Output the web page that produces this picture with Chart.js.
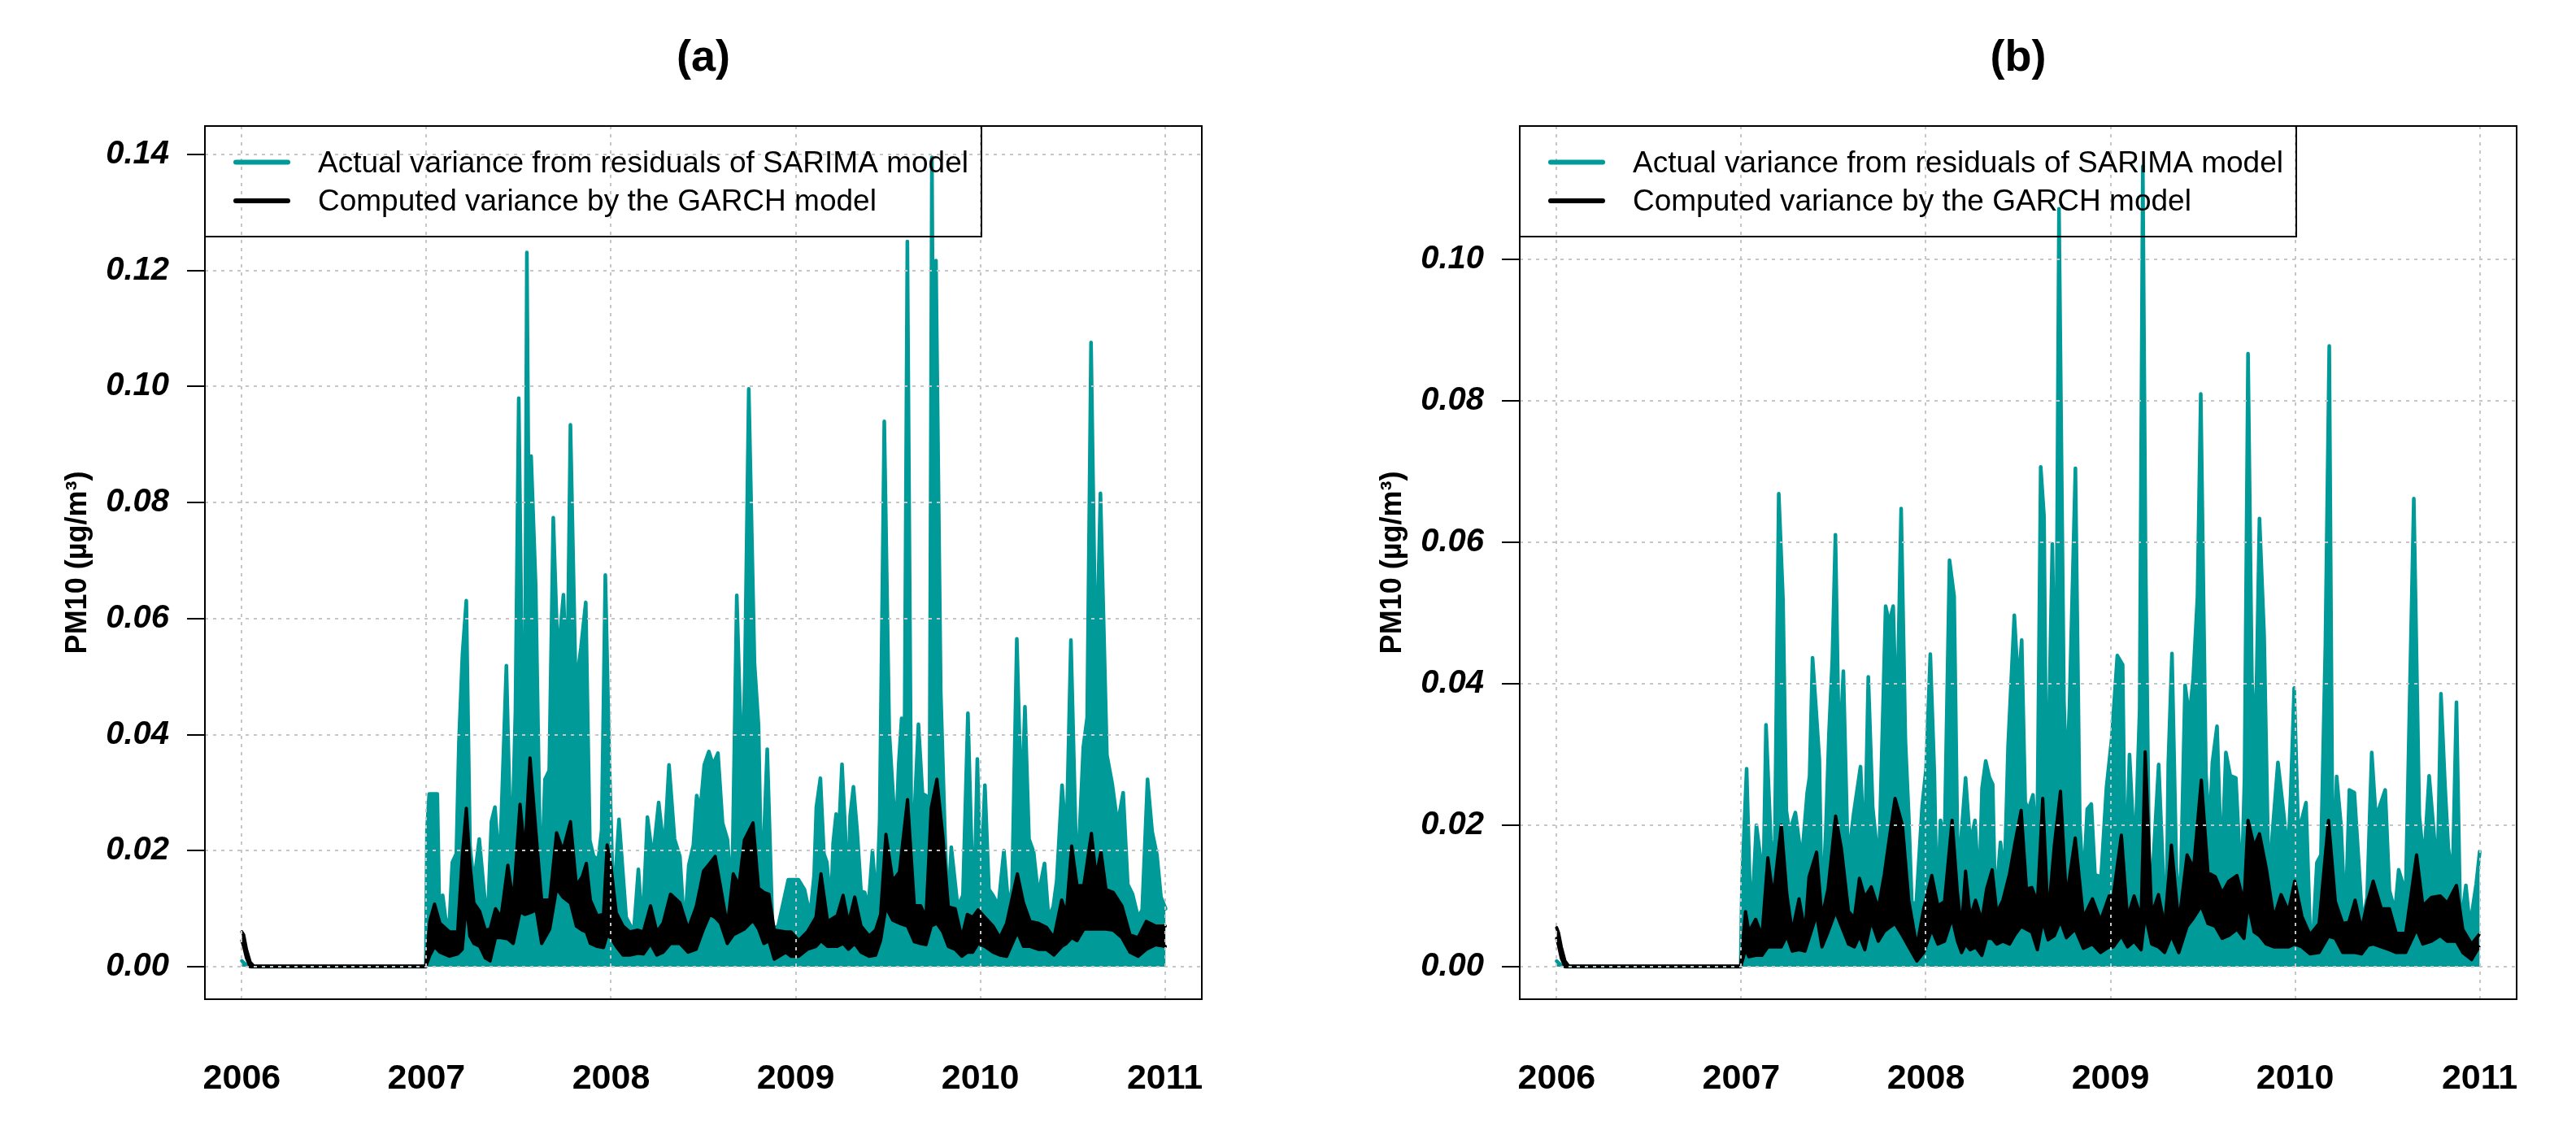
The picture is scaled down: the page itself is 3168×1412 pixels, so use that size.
<!DOCTYPE html>
<html><head><meta charset="utf-8">
<script src="https://cdn.jsdelivr.net/npm/chart.js@4.4.1/dist/chart.umd.min.js"></script>
<style>
html,body{margin:0;padding:0;background:#fff;}
#wrap{position:relative;width:3168px;height:1412px;overflow:hidden;}
canvas{position:absolute;top:0;}
</style></head><body>
<div id="wrap">
<canvas id="ca" width="1584" height="1412" style="left:0;width:1584px;height:1412px"></canvas>
<canvas id="cb" width="1584" height="1412" style="left:1584px;width:1584px;height:1412px"></canvas>
</div>
<script>
// ---------- tick labels / text ----------
const yearTicks = [2006, 2007, 2008, 2009, 2010, 2011];
const yTicksA = [0, 0.02, 0.04, 0.06, 0.08, 0.10, 0.12, 0.14];
const yTickLabelsA = ['0.00', '0.02', '0.04', '0.06', '0.08', '0.10', '0.12', '0.14'];
const yTicksB = [0, 0.02, 0.04, 0.06, 0.08, 0.10];
const yTickLabelsB = ['0.00', '0.02', '0.04', '0.06', '0.08', '0.10'];
const panelTitles = ['(a)', '(b)'];
const legendLabels = ['Actual variance from residuals of SARIMA model', 'Computed variance by the GARCH model'];
const yAxisTitle = 'PM10 (µg/m³)';

// ---------- panel (a): actual variance [year, value] ----------
const tealA = [
[2006.000,0.0010],[2006.020,0.0004],[2006.050,0.0000],[2006.997,0.0000],[2007.003,0.0238],[2007.015,0.0298],[2007.059,0.0298],[2007.069,0.0120],[2007.088,0.0123],[2007.103,0.0085],
[2007.122,0.0060],[2007.140,0.0180],[2007.162,0.0195],[2007.176,0.0388],[2007.195,0.0538],[2007.216,0.0631],[2007.236,0.0208],[2007.257,0.0143],[2007.286,0.0220],[2007.308,0.0145],
[2007.330,0.0068],[2007.352,0.0250],[2007.371,0.0275],[2007.396,0.0168],[2007.433,0.0519],[2007.460,0.0165],[2007.482,0.0440],[2007.500,0.0980],[2007.518,0.0500],[2007.530,0.0200],
[2007.544,0.1231],[2007.556,0.0700],[2007.567,0.0880],[2007.592,0.0655],[2007.620,0.0115],[2007.642,0.0323],[2007.665,0.0338],[2007.687,0.0774],[2007.712,0.0528],[2007.742,0.0641],
[2007.762,0.0470],[2007.780,0.0934],[2007.809,0.0481],[2007.837,0.0550],[2007.863,0.0628],[2007.885,0.0218],[2007.906,0.0190],[2007.931,0.0185],[2007.949,0.0235],[2007.969,0.0675],
[2007.991,0.0350],[2008.013,0.0103],[2008.043,0.0254],[2008.082,0.0085],[2008.123,0.0060],[2008.148,0.0168],[2008.170,0.0063],[2008.197,0.0258],[2008.226,0.0185],[2008.258,0.0283],
[2008.288,0.0198],[2008.314,0.0348],[2008.344,0.0220],[2008.373,0.0190],[2008.398,0.0060],[2008.421,0.0175],[2008.446,0.0210],[2008.464,0.0295],[2008.483,0.0270],[2008.505,0.0348],
[2008.530,0.0371],[2008.552,0.0348],[2008.579,0.0368],[2008.604,0.0248],[2008.630,0.0220],[2008.655,0.0123],[2008.681,0.0640],[2008.711,0.0310],[2008.725,0.0508],[2008.746,0.0996],
[2008.777,0.0523],[2008.799,0.0415],[2008.816,0.0120],[2008.846,0.0375],[2008.875,0.0065],[2008.905,0.0070],[2008.960,0.0150],[2009.015,0.0150],[2009.048,0.0133],[2009.078,0.0088],
[2009.100,0.0158],[2009.112,0.0275],[2009.134,0.0325],[2009.153,0.0195],[2009.169,0.0180],[2009.191,0.0103],[2009.203,0.0213],[2009.219,0.0263],[2009.234,0.0233],[2009.251,0.0349],
[2009.269,0.0233],[2009.283,0.0110],[2009.295,0.0260],[2009.313,0.0310],[2009.333,0.0235],[2009.354,0.0130],[2009.374,0.0128],[2009.394,0.0103],[2009.416,0.0200],[2009.438,0.0103],
[2009.455,0.0253],[2009.480,0.0940],[2009.507,0.0405],[2009.530,0.0285],[2009.548,0.0265],[2009.558,0.0348],[2009.574,0.0428],[2009.589,0.0350],[2009.605,0.1250],[2009.629,0.0130],
[2009.643,0.0263],[2009.665,0.0418],[2009.687,0.0298],[2009.706,0.0295],[2009.724,0.0185],[2009.738,0.1395],[2009.749,0.0800],[2009.760,0.1217],[2009.786,0.0473],[2009.809,0.0225],
[2009.824,0.0095],[2009.843,0.0206],[2009.878,0.0103],[2009.906,0.0123],[2009.933,0.0437],[2009.952,0.0220],[2009.965,0.0085],[2009.984,0.0358],[2010.003,0.0135],[2010.025,0.0313],
[2010.047,0.0133],[2010.069,0.0123],[2010.098,0.0105],[2010.128,0.0200],[2010.153,0.0103],[2010.172,0.0135],[2010.198,0.0565],[2010.223,0.0270],[2010.242,0.0448],[2010.264,0.0220],
[2010.289,0.0198],[2010.314,0.0123],[2010.348,0.0178],[2010.370,0.0085],[2010.395,0.0103],[2010.414,0.0148],[2010.443,0.0313],[2010.466,0.0213],[2010.491,0.0563],[2010.524,0.0140],
[2010.543,0.0270],[2010.558,0.0378],[2010.579,0.0430],[2010.600,0.1076],[2010.627,0.0490],[2010.651,0.0816],[2010.686,0.0365],[2010.715,0.0315],[2010.744,0.0245],[2010.774,0.0300],
[2010.799,0.0142],[2010.825,0.0125],[2010.855,0.0085],[2010.877,0.0098],[2010.906,0.0323],[2010.931,0.0233],[2010.957,0.0193],[2010.979,0.0120],[2011.004,0.0100]
];
// ---------- panel (a): GARCH variance [year, upper, lower] ----------
const blackA = [
[2006.000,0.0060,0.0045],[2006.010,0.0055,0.0035],[2006.025,0.0030,0.0015],[2006.045,0.0008,0.0000],[2006.065,0.0001,0.0000],[2006.996,0.0001,0.0000],
[2007.019,0.0080,0.0020],[2007.044,0.0108,0.0035],[2007.073,0.0075,0.0025],[2007.125,0.0060,0.0018],[2007.169,0.0060,0.0022],[2007.194,0.0190,0.0030],
[2007.216,0.0273,0.0110],[2007.235,0.0180,0.0053],[2007.257,0.0110,0.0040],[2007.289,0.0095,0.0035],[2007.319,0.0063,0.0015],[2007.345,0.0065,0.0010],
[2007.374,0.0100,0.0050],[2007.404,0.0085,0.0050],[2007.441,0.0175,0.0048],[2007.470,0.0110,0.0040],[2007.507,0.0280,0.0095],[2007.533,0.0195,0.0090],
[2007.561,0.0360,0.0093],[2007.595,0.0225,0.0098],[2007.624,0.0115,0.0040],[2007.668,0.0115,0.0065],[2007.705,0.0231,0.0135],[2007.739,0.0200,0.0120],
[2007.780,0.0250,0.0110],[2007.812,0.0140,0.0070],[2007.844,0.0155,0.0063],[2007.866,0.0178,0.0060],[2007.888,0.0115,0.0040],[2007.925,0.0088,0.0035],
[2007.959,0.0090,0.0033],[2007.979,0.0210,0.0055],[2007.999,0.0175,0.0050],[2008.028,0.0093,0.0035],[2008.065,0.0070,0.0020],[2008.101,0.0060,0.0020],
[2008.145,0.0063,0.0023],[2008.175,0.0060,0.0022],[2008.214,0.0105,0.0040],[2008.248,0.0060,0.0020],[2008.282,0.0075,0.0025],[2008.322,0.0125,0.0040],
[2008.373,0.0110,0.0040],[2008.417,0.0065,0.0025],[2008.461,0.0103,0.0030],[2008.501,0.0165,0.0065],[2008.535,0.0178,0.0090],[2008.564,0.0190,0.0085],
[2008.593,0.0138,0.0075],[2008.630,0.0070,0.0040],[2008.662,0.0160,0.0055],[2008.693,0.0140,0.0060],[2008.722,0.0218,0.0065],[2008.769,0.0248,0.0080],
[2008.799,0.0135,0.0065],[2008.828,0.0128,0.0040],[2008.855,0.0125,0.0045],[2008.884,0.0063,0.0013],[2008.946,0.0060,0.0025],[2008.975,0.0060,0.0018],
[2009.016,0.0045,0.0018],[2009.063,0.0060,0.0030],[2009.110,0.0085,0.0035],[2009.137,0.0160,0.0045],[2009.173,0.0078,0.0035],[2009.225,0.0088,0.0035],
[2009.257,0.0123,0.0040],[2009.286,0.0075,0.0030],[2009.320,0.0120,0.0040],[2009.354,0.0070,0.0025],[2009.398,0.0053,0.0018],[2009.433,0.0063,0.0020],
[2009.460,0.0090,0.0045],[2009.489,0.0228,0.0103],[2009.526,0.0148,0.0080],[2009.562,0.0163,0.0075],[2009.606,0.0288,0.0070],[2009.643,0.0105,0.0043],
[2009.677,0.0105,0.0040],[2009.706,0.0085,0.0038],[2009.734,0.0273,0.0070],[2009.765,0.0323,0.0075],[2009.797,0.0225,0.0060],[2009.827,0.0103,0.0035],
[2009.864,0.0100,0.0030],[2009.900,0.0050,0.0018],[2009.930,0.0090,0.0025],[2009.959,0.0085,0.0025],[2009.988,0.0098,0.0040],[2010.025,0.0085,0.0035],
[2010.069,0.0070,0.0025],[2010.106,0.0050,0.0020],[2010.143,0.0075,0.0018],[2010.201,0.0160,0.0060],[2010.234,0.0110,0.0035],[2010.270,0.0078,0.0035],
[2010.314,0.0075,0.0030],[2010.358,0.0068,0.0030],[2010.399,0.0050,0.0020],[2010.441,0.0115,0.0035],[2010.466,0.0090,0.0040],[2010.495,0.0208,0.0050],
[2010.524,0.0140,0.0045],[2010.561,0.0140,0.0065],[2010.602,0.0230,0.0065],[2010.627,0.0155,0.0065],[2010.654,0.0198,0.0065],[2010.681,0.0133,0.0065],
[2010.720,0.0128,0.0063],[2010.767,0.0105,0.0050],[2010.811,0.0055,0.0025],[2010.855,0.0050,0.0018],[2010.899,0.0078,0.0030],[2010.950,0.0070,0.0038],
[2011.002,0.0070,0.0035]
];
// ---------- panel (b): actual variance [year, value] ----------
const tealB = [
[2006.000,0.0008],[2006.020,0.0003],[2006.050,0.0000],[2006.997,0.0000],[2007.004,0.0119],[2007.029,0.0280],[2007.053,0.0053],[2007.082,0.0200],[2007.104,0.0154],[2007.116,0.0070],
[2007.134,0.0342],[2007.160,0.0180],[2007.180,0.0135],[2007.203,0.0669],[2007.226,0.0520],[2007.244,0.0221],[2007.261,0.0190],[2007.293,0.0218],[2007.327,0.0150],[2007.357,0.0246],
[2007.370,0.0269],[2007.386,0.0437],[2007.405,0.0365],[2007.423,0.0293],[2007.437,0.0070],[2007.458,0.0193],[2007.475,0.0330],[2007.493,0.0433],[2007.510,0.0611],[2007.531,0.0287],
[2007.553,0.0418],[2007.578,0.0150],[2007.609,0.0217],[2007.646,0.0283],[2007.668,0.0150],[2007.688,0.0410],[2007.712,0.0225],[2007.745,0.0140],[2007.782,0.0510],[2007.801,0.0486],
[2007.823,0.0510],[2007.842,0.0328],[2007.866,0.0648],[2007.889,0.0320],[2007.907,0.0215],[2007.924,0.0090],[2007.948,0.0090],[2007.980,0.0228],[2008.001,0.0280],[2008.024,0.0442],
[2008.046,0.0273],[2008.061,0.0070],[2008.079,0.0207],[2008.101,0.0178],[2008.128,0.0575],[2008.153,0.0524],[2008.174,0.0123],[2008.215,0.0267],[2008.240,0.0174],[2008.266,0.0207],
[2008.288,0.0102],[2008.304,0.0252],[2008.324,0.0291],[2008.344,0.0268],[2008.362,0.0258],[2008.376,0.0085],[2008.404,0.0176],[2008.426,0.0129],[2008.445,0.0310],[2008.479,0.0497],
[2008.501,0.0394],[2008.519,0.0462],[2008.538,0.0233],[2008.555,0.0221],[2008.580,0.0243],[2008.602,0.0157],[2008.622,0.0707],[2008.640,0.0637],[2008.655,0.0186],[2008.685,0.0598],
[2008.704,0.0312],[2008.721,0.1072],[2008.748,0.0375],[2008.762,0.0260],[2008.778,0.0370],[2008.810,0.0705],[2008.834,0.0200],[2008.853,0.0115],[2008.874,0.0223],[2008.896,0.0230],
[2008.916,0.0130],[2008.949,0.0127],[2008.978,0.0253],[2009.007,0.0324],[2009.037,0.0440],[2009.066,0.0427],[2009.081,0.0102],[2009.103,0.0300],[2009.122,0.0201],[2009.138,0.0201],
[2009.158,0.0365],[2009.175,0.1132],[2009.190,0.0580],[2009.210,0.0139],[2009.230,0.0141],[2009.261,0.0286],[2009.280,0.0166],[2009.301,0.0028],[2009.313,0.0287],[2009.333,0.0443],
[2009.357,0.0139],[2009.377,0.0078],[2009.404,0.0398],[2009.427,0.0353],[2009.448,0.0408],[2009.471,0.0523],[2009.489,0.0810],[2009.517,0.0273],[2009.536,0.0193],[2009.552,0.0289],
[2009.577,0.0340],[2009.602,0.0135],[2009.625,0.0303],[2009.649,0.0270],[2009.679,0.0267],[2009.709,0.0106],[2009.726,0.0267],[2009.745,0.0867],[2009.766,0.0406],[2009.785,0.0310],
[2009.807,0.0634],[2009.832,0.0470],[2009.858,0.0111],[2009.877,0.0189],[2009.907,0.0289],[2009.939,0.0215],[2009.961,0.0155],[2009.976,0.0244],[2009.995,0.0394],[2010.017,0.0195],
[2010.037,0.0209],[2010.059,0.0232],[2010.081,0.0053],[2010.100,0.0057],[2010.118,0.0147],[2010.140,0.0158],[2010.164,0.0455],[2010.185,0.0878],[2010.205,0.0092],[2010.225,0.0269],
[2010.249,0.0199],[2010.272,0.0061],[2010.294,0.0250],[2010.321,0.0246],[2010.343,0.0155],[2010.365,0.0061],[2010.390,0.0098],[2010.415,0.0303],[2010.437,0.0213],[2010.456,0.0225],
[2010.488,0.0250],[2010.511,0.0108],[2010.541,0.0078],[2010.561,0.0137],[2010.599,0.0104],[2010.643,0.0662],[2010.673,0.0213],[2010.698,0.0147],[2010.726,0.0270],[2010.752,0.0189],
[2010.771,0.0129],[2010.790,0.0386],[2010.812,0.0256],[2010.830,0.0168],[2010.853,0.0127],[2010.874,0.0374],[2010.896,0.0053],[2010.925,0.0115],[2010.947,0.0057],[2010.981,0.0117],
[2011.000,0.0163]
];
// ---------- panel (b): GARCH variance [year, upper, lower] ----------
const blackB = [
[2006.000,0.0055,0.0040],[2006.010,0.0048,0.0030],[2006.025,0.0028,0.0012],[2006.045,0.0008,0.0000],[2006.065,0.0001,0.0000],[2006.997,0.0001,0.0000],
[2007.023,0.0078,0.0025],[2007.041,0.0049,0.0014],[2007.078,0.0067,0.0016],[2007.112,0.0043,0.0016],[2007.144,0.0154,0.0028],[2007.173,0.0098,0.0028],
[2007.217,0.0200,0.0028],[2007.247,0.0102,0.0044],[2007.276,0.0049,0.0022],[2007.313,0.0096,0.0024],[2007.345,0.0049,0.0022],[2007.367,0.0127,0.0040],
[2007.408,0.0162,0.0074],[2007.437,0.0069,0.0028],[2007.470,0.0110,0.0049],[2007.511,0.0213,0.0078],[2007.543,0.0166,0.0057],[2007.581,0.0078,0.0032],
[2007.613,0.0069,0.0028],[2007.640,0.0125,0.0044],[2007.669,0.0098,0.0024],[2007.704,0.0113,0.0065],[2007.742,0.0082,0.0036],[2007.775,0.0131,0.0050],
[2007.800,0.0178,0.0055],[2007.833,0.0238,0.0061],[2007.873,0.0200,0.0044],[2007.907,0.0094,0.0028],[2007.951,0.0028,0.0008],[2007.988,0.0082,0.0020],
[2008.032,0.0129,0.0053],[2008.065,0.0086,0.0032],[2008.101,0.0092,0.0036],[2008.142,0.0207,0.0069],[2008.171,0.0104,0.0036],[2008.193,0.0053,0.0020],
[2008.215,0.0135,0.0032],[2008.240,0.0069,0.0024],[2008.269,0.0094,0.0028],[2008.303,0.0065,0.0016],[2008.329,0.0110,0.0040],[2008.359,0.0137,0.0040],
[2008.384,0.0076,0.0032],[2008.417,0.0094,0.0036],[2008.453,0.0131,0.0032],[2008.482,0.0174,0.0045],[2008.516,0.0221,0.0057],[2008.545,0.0110,0.0053],
[2008.574,0.0112,0.0049],[2008.604,0.0090,0.0024],[2008.633,0.0238,0.0065],[2008.662,0.0069,0.0038],[2008.696,0.0172,0.0044],[2008.729,0.0248,0.0065],
[2008.761,0.0096,0.0041],[2008.809,0.0182,0.0053],[2008.853,0.0069,0.0026],[2008.902,0.0096,0.0032],[2008.946,0.0065,0.0020],[2008.993,0.0100,0.0028],
[2009.015,0.0100,0.0028],[2009.059,0.0186,0.0044],[2009.092,0.0069,0.0028],[2009.128,0.0100,0.0036],[2009.166,0.0069,0.0024],[2009.188,0.0304,0.0074],
[2009.223,0.0074,0.0032],[2009.260,0.0102,0.0028],[2009.293,0.0057,0.0020],[2009.330,0.0172,0.0044],[2009.370,0.0061,0.0020],[2009.415,0.0158,0.0057],
[2009.450,0.0139,0.0069],[2009.492,0.0264,0.0086],[2009.528,0.0133,0.0061],[2009.568,0.0127,0.0057],[2009.605,0.0104,0.0040],[2009.641,0.0121,0.0044],
[2009.685,0.0129,0.0053],[2009.723,0.0090,0.0040],[2009.745,0.0207,0.0090],[2009.778,0.0170,0.0049],[2009.807,0.0188,0.0044],[2009.844,0.0139,0.0032],
[2009.885,0.0069,0.0028],[2009.924,0.0102,0.0028],[2009.964,0.0078,0.0028],[2009.998,0.0121,0.0032],[2010.037,0.0071,0.0028],[2010.081,0.0045,0.0018],
[2010.130,0.0061,0.0020],[2010.181,0.0207,0.0043],[2010.218,0.0092,0.0040],[2010.258,0.0061,0.0020],[2010.291,0.0063,0.0020],[2010.325,0.0094,0.0020],
[2010.360,0.0053,0.0018],[2010.394,0.0094,0.0030],[2010.423,0.0121,0.0032],[2010.467,0.0082,0.0028],[2010.511,0.0082,0.0024],[2010.548,0.0047,0.0020],
[2010.599,0.0047,0.0020],[2010.658,0.0158,0.0053],[2010.692,0.0086,0.0032],[2010.739,0.0098,0.0036],[2010.786,0.0100,0.0044],[2010.824,0.0090,0.0036],
[2010.874,0.0115,0.0036],[2010.908,0.0053,0.0020],[2010.956,0.0032,0.0010],[2010.996,0.0045,0.0028]
];

// ---------- drawing ----------
const TEAL = '#009a99';
const GRID = '#c6c6c6';
const FONT = "'Liberation Sans', Arial, Helvetica, sans-serif";
Chart.defaults.font.family = FONT;
Chart.defaults.color = '#000';

function boxLegendPlugin() {
  return {
    id: 'boxLegend',
    afterDraw(chart) {
      const ctx = chart.ctx;
      const a = chart.chartArea;
      ctx.save();
      ctx.strokeStyle = '#000';
      ctx.lineWidth = 2;
      ctx.setLineDash([]);
      ctx.strokeRect(a.left, a.top, a.right - a.left, a.bottom - a.top);
      // legend box (top-left, inside plot region)
      const lw = 955, lh = 136;
      ctx.strokeRect(a.left, a.top, lw, lh);
      const rows = [{c: TEAL, y: a.top + 44.5, t: legendLabels[0]}, {c: '#000', y: a.top + 92, t: legendLabels[1]}];
      ctx.font = '37px ' + FONT;
      ctx.textBaseline = 'middle';
      ctx.textAlign = 'left';
      rows.forEach(r => {
        ctx.strokeStyle = r.c;
        ctx.lineWidth = 6;
        ctx.lineCap = 'round';
        ctx.beginPath();
        ctx.moveTo(a.left + 38, r.y);
        ctx.lineTo(a.left + 102, r.y);
        ctx.stroke();
        ctx.fillStyle = '#000';
        ctx.fillText(r.t, a.left + 139, r.y + 2);
      });
      ctx.restore();
    }
  };
}

function makePanel(id, p) {
  const ticks = p.yTicks, labels = p.yLabels;
  return new Chart(document.getElementById(id), {
    type: 'line',
    data: {
      datasets: [
        { label: legendLabels[1], data: p.black.map(r => ({x: r[0], y: r[1]})), borderColor: '#000', backgroundColor: '#000',
          borderWidth: 4, fill: '+1', pointRadius: 0, tension: 0, borderJoinStyle: 'round', borderCapStyle: 'round' },
        { label: legendLabels[1] + ' (lower)', data: p.black.map(r => ({x: r[0], y: r[2]})), borderColor: '#000',
          borderWidth: 4, fill: false, pointRadius: 0, tension: 0, borderJoinStyle: 'round', borderCapStyle: 'round' },
        { label: legendLabels[0], data: p.teal.map(r => ({x: r[0], y: r[1]})), borderColor: TEAL, backgroundColor: TEAL,
          borderWidth: 4.5, fill: 'origin', pointRadius: 0, tension: 0, borderJoinStyle: 'round', borderCapStyle: 'round' }
      ]
    },
    options: {
      responsive: false, animation: false, devicePixelRatio: 1, events: [],
      layout: { padding: { left: 0, right: p.padRight, top: 0, bottom: 0 } },
      plugins: {
        legend: { display: false }, tooltip: { enabled: false },
        title: { display: true, text: p.title, fullSize: false, color: '#000',
                 font: { size: 54, weight: 'bold' }, padding: { top: 40, bottom: 50.2 } }
      },
      scales: {
        x: {
          type: 'linear', min: 2005.8, max: 2011.2,
          afterBuildTicks: s => { s.ticks = yearTicks.map(v => ({value: v})); },
          afterFit: s => { s.height = 183; },
          border: { display: false, dash: [4, 6] },
          grid: { z: 1, color: GRID, lineWidth: 2, drawTicks: true, tickLength: 72, tickColor: 'rgba(0,0,0,0)', tickBorderDash: [] },
          ticks: { padding: 0, autoSkip: false, maxRotation: 0, minRotation: 0, color: '#000',
                   font: { size: 43, weight: 'bold' }, callback: v => String(v) }
        },
        y: {
          type: 'linear', min: p.yMin, max: p.yMax,
          afterBuildTicks: s => { s.ticks = ticks.map(v => ({value: v})); },
          afterFit: s => { s.width = p.yWidth; },
          border: { display: false, dash: [4, 6] },
          grid: { z: 1, color: GRID, lineWidth: 2, drawTicks: true, tickLength: 22, tickColor: '#000', tickWidth: 2, tickBorderDash: [] },
          ticks: { padding: 22, color: '#000', font: { size: 40, weight: 'bold', style: 'italic' },
                   callback: (v, i) => labels[i] },
          title: { display: true, text: yAxisTitle, color: '#000', font: { size: 36, weight: 'bold' },
                   padding: { top: p.yTitlePad, bottom: 0 } }
        }
      }
    },
    plugins: [boxLegendPlugin()]
  });
}

makePanel('ca', { title: panelTitles[0], teal: tealA, black: blackA, yTicks: yTicksA, yLabels: yTickLabelsA,
  yMin: -0.0056, yMax: 0.1449, yWidth: 252, padRight: 106, yTitlePad: 74 });
makePanel('cb', { title: panelTitles[1], teal: tealB, black: blackB, yTicks: yTicksB, yLabels: yTickLabelsB,
  yMin: -0.0046, yMax: 0.1189, yWidth: 285, padRight: 73, yTitlePad: 107 });
</script>
</body></html>
